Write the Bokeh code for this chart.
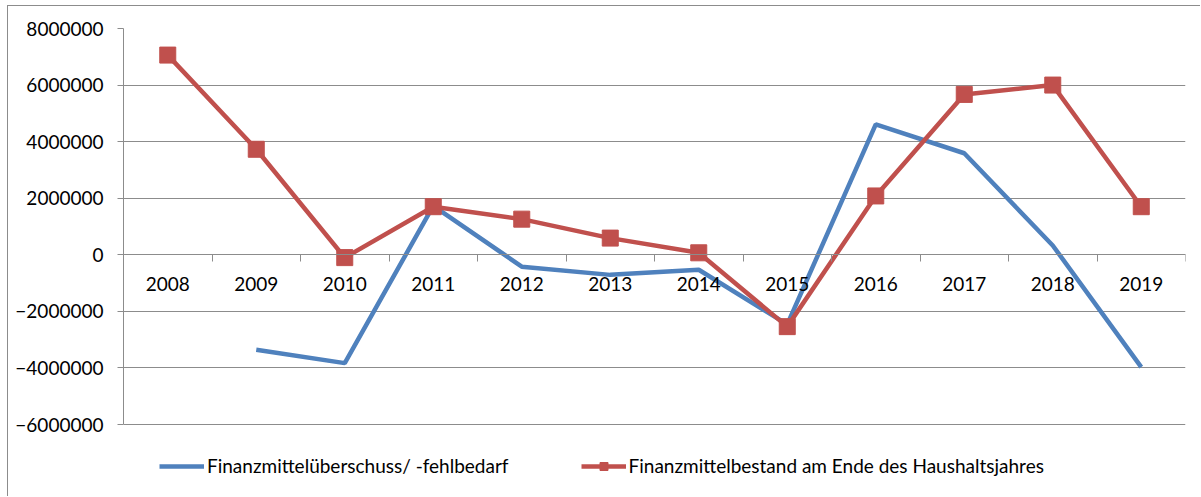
import numpy as np
from bokeh.plotting import figure
from bokeh.models import FixedTicker, BasicTickFormatter, Legend, LegendItem, Range1d
from bokeh.embed import file_html
from bokeh.resources import INLINE

years = ["2008", "2009", "2010", "2011", "2012", "2013", "2014", "2015", "2016", "2017", "2018", "2019"]
ueberschuss = [np.nan, -3360000, -3830000, 1730000, -420000, -710000, -530000, -2460000, 4610000, 3590000, 330000, -3970000]
bestand = [7060000, 3730000, -100000, 1700000, 1260000, 590000, 70000, -2540000, 2080000, 5670000, 6000000, 1700000]
y_ticks = [-6000000, -4000000, -2000000, 0, 2000000, 4000000, 6000000, 8000000]

name_blue = "Finanzmittelüberschuss/ -fehlbedarf"
name_red = "Finanzmittelbestand am Ende des Haushaltsjahres"

FONT = "Lato"
GRID = "#8c8c8c"
BLUE = "#4F81BD"
RED = "#C0504D"

# layout (pixels)
W, H = 1193, 491
B_LEFT, B_RIGHT, B_TOP, B_BOTTOM = 115, 16, 22, 12
AXIS_PX = 396            # pixel height between lowest and highest y tick
frame_h = H - B_TOP - B_BOTTOM
y_lo, y_hi = min(y_ticks), max(y_ticks)
y_min = y_hi - (y_hi - y_lo) * frame_h / AXIS_PX   # extra room below the axis for the legend

xs = list(range(len(years)))

p = figure(width=W, height=H, output_backend="svg", toolbar_location=None,
           x_range=Range1d(-0.5, len(years) - 0.5), y_range=Range1d(y_min, y_hi),
           min_border_left=B_LEFT, min_border_right=B_RIGHT, min_border_top=B_TOP, min_border_bottom=B_BOTTOM,
           styles={"margin-left": "7px", "margin-top": "5px",
                   "border-left": "1px solid #8c8c8c", "border-top": "1px solid #8c8c8c"})
p.outline_line_color = None
p.background_fill_color = "white"
p.border_fill_color = "white"

# y axis
p.yaxis.bounds = (y_lo, y_hi)
p.yaxis.ticker = FixedTicker(ticks=y_ticks)
p.yaxis.formatter = BasicTickFormatter(use_scientific=False)
p.yaxis.axis_line_color = GRID
p.yaxis.major_tick_line_color = GRID
p.yaxis.major_tick_out = 6
p.yaxis.major_tick_in = 0
p.yaxis.minor_tick_line_color = None
p.yaxis.major_label_text_font = FONT
p.yaxis.major_label_text_font_size = "19px"
p.yaxis.major_label_text_color = "black"
p.yaxis.major_label_standoff = 14

# x axis at y = 0
p.xaxis.fixed_location = 0
p.xaxis.ticker = FixedTicker(ticks=xs, minor_ticks=[i - 0.5 for i in range(len(years) + 1)])
p.xaxis.major_label_overrides = {i: y for i, y in enumerate(years)}
p.xaxis.axis_line_color = GRID
p.xaxis.major_tick_line_color = None
p.xaxis.major_tick_out = 0
p.xaxis.major_tick_in = 0
p.xaxis.minor_tick_line_color = GRID
p.xaxis.minor_tick_out = 7
p.xaxis.minor_tick_in = 0
p.xaxis.major_label_text_font = FONT
p.xaxis.major_label_text_font_size = "19px"
p.xaxis.major_label_text_color = "black"
p.xaxis.major_label_standoff = 15

p.xgrid.grid_line_color = None
p.ygrid.ticker = FixedTicker(ticks=y_ticks)
p.ygrid.grid_line_color = GRID
p.ygrid.grid_line_width = 1

r_blue = p.line(xs, ueberschuss, line_color=BLUE, line_width=4.5)
r_red = p.line(xs, bestand, line_color=RED, line_width=4.5)
r_red_m = p.scatter(xs, bestand, marker="square", size=16, fill_color=RED, line_color=RED)

legend = Legend(items=[LegendItem(label=name_blue, renderers=[r_blue]),
                       LegendItem(label=name_red, renderers=[r_red, r_red_m])],
                orientation="horizontal", location=(36, 8),
                glyph_width=45, glyph_height=20, label_standoff=3, spacing=72,
                padding=0, margin=0, border_line_color=None, background_fill_alpha=0,
                label_text_font=FONT, label_text_font_size="19px", label_text_color="black")
p.add_layout(legend, "center")

open("out.html", "w").write(file_html(p, INLINE))
